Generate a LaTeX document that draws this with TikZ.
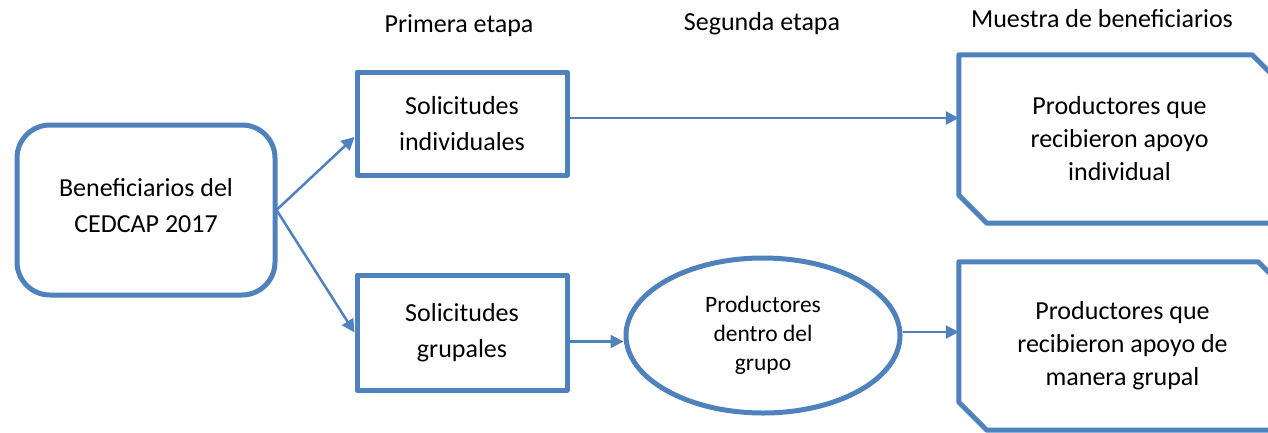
\documentclass[tikz,border=0pt]{standalone}
\usepackage{fontspec}
\setmainfont{Carlito}
\usetikzlibrary{arrows.meta,shapes.geometric}
\definecolor{ofblue}{RGB}{79,129,189}
\newcommand{\mainf}{\fontsize{26}{36}\selectfont}
\newcommand{\ellf}{\fontsize{23.5}{29}\selectfont}
\newcommand{\rightf}{\fontsize{26}{33}\selectfont}
\tikzset{
  frame/.style={draw=ofblue, line width=5pt, line join=round, align=center, inner sep=0pt, text=black},
  stepbox/.style={frame, rectangle, font=\mainf},
  arr/.style={draw=ofblue, line width=2.5pt, -{Triangle[length=13pt,width=13pt]}},
  label/.style={font=\mainf, anchor=base, inner sep=0pt},
  snipped/.style={draw=ofblue, line width=5pt, line join=round},
}
\begin{document}
\begin{tikzpicture}[x=1pt,y=-1pt]
\useasboundingbox (0,0) rectangle (1268,432);
\clip (0,0) rectangle (1268,432);
% nodes
\node[stepbox, rounded corners=33pt, minimum width=258pt, minimum height=170pt, text depth=9pt] (ben) at (146,210) {Beneficiarios del\\CEDCAP 2017};
\node[stepbox, minimum width=210pt, minimum height=103pt] (ind) at (462,123.5) {Solicitudes\\individuales};
\node[stepbox, minimum width=210pt, minimum height=115pt] (gru) at (462,332.5) {Solicitudes\\grupales};
\node[draw=ofblue, line width=5pt, ellipse, inner sep=0pt, minimum width=274pt, minimum height=155pt, font=\ellf] (ell) at (763,335.5) {\raisebox{-4pt}{\begin{tabular}{@{}c@{}}Productores\\dentro del\\grupo\end{tabular}}};
\node[rectangle, minimum width=321pt, minimum height=168pt, inner sep=0pt, align=center, font=\rightf] (pind) at (1119.5,139) {Productores que\\recibieron apoyo\\individual};
\node[rectangle, minimum width=327pt, minimum height=168pt, inner sep=0pt, align=center, font=\rightf] (pgru) at (1122.5,346) {Productores que\\recibieron apoyo de\\manera grupal};
% snipped frames
\draw[snipped] (pind.north west) -- ([xshift=-28pt]pind.north east) -- ([yshift=-28pt]pind.north east) -- (pind.south east) -- ([xshift=28pt]pind.south west) -- ([yshift=28pt]pind.south west) -- cycle;
\draw[snipped] (pgru.north west) -- ([xshift=-28pt]pgru.north east) -- ([yshift=-28pt]pgru.north east) -- (pgru.south east) -- ([xshift=28pt]pgru.south west) -- ([yshift=28pt]pgru.south west) -- cycle;
% labels
\node[label] (l1) at (459,32) {Primera etapa};
\node[label] (l2) at (762,30) {Segunda etapa};
\node[label] (l3) at (1102,27) {Muestra de beneficiarios};
% connectors
\draw[arr] ([xshift=-1pt]ben.east) -- ([yshift=-13.5pt]ind.west);
\draw[arr] ([xshift=-1pt]ben.east) -- (gru.west);
\draw[arr] ([yshift=5.5pt]ind.east) -- ([yshift=5.5pt]ind.east -| pind.west);
\draw[arr] ([yshift=-9pt]gru.east) -- ([yshift=-9pt]gru.east -| ell.west);
\draw[arr] ([yshift=3.5pt]ell.east) -- ([yshift=3.5pt]ell.east -| pgru.west);
\end{tikzpicture}
\end{document}
